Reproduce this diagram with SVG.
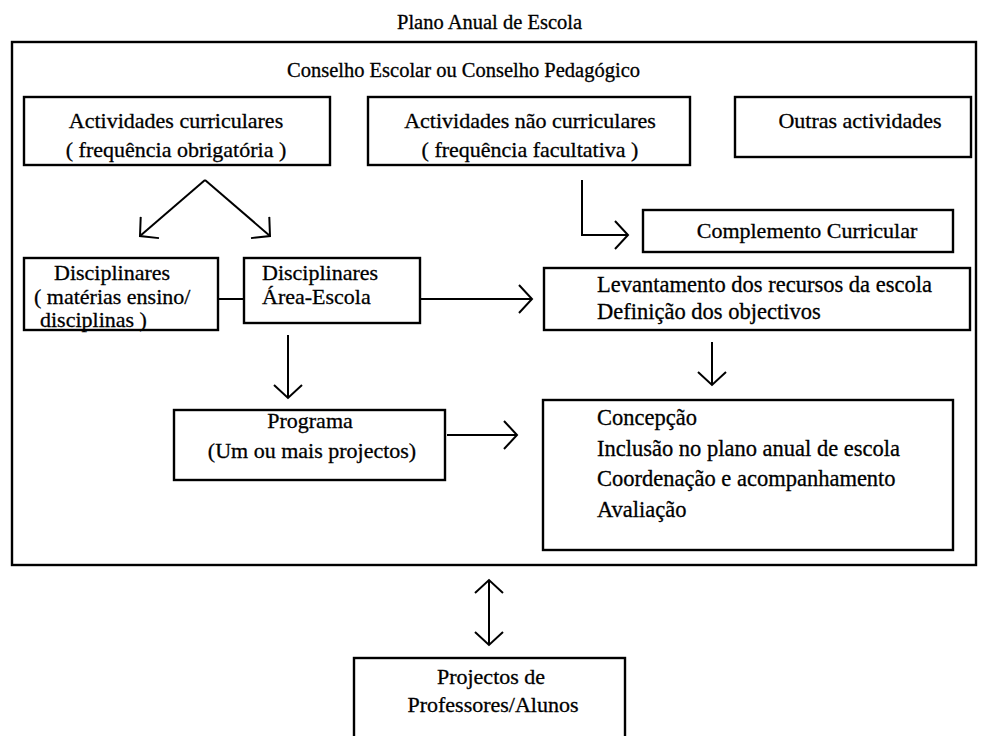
<svg xmlns="http://www.w3.org/2000/svg" width="984" height="736" viewBox="0 0 984 736">
<style>
text{font-family:"Liberation Serif","Times New Roman",serif;font-size:22px;fill:#000;stroke:#000;stroke-width:0.3}
.c{text-anchor:middle}
.h{font-size:20.5px}
.box{fill:none;stroke:#000;stroke-width:2.4}
.con{fill:none;stroke:#000;stroke-width:2}
</style>
<defs>
<marker id="ah" viewBox="0 0 16 30" refX="14" refY="15" markerWidth="16" markerHeight="30" markerUnits="userSpaceOnUse" orient="auto-start-reverse">
<path d="M1,1 L14,15 L1,29" fill="none" stroke="#000" stroke-width="2"/>
</marker>
</defs>
<rect width="984" height="736" fill="#fff"/>
<text class="h" x="397" y="29">Plano Anual de Escola</text>
<g id="outer">
<rect class="box" x="12" y="42" width="964" height="523"/>
<text class="h" x="287" y="77">Conselho Escolar ou Conselho Pedagógico</text>
</g>
<g id="curriculares">
<rect class="box" x="24" y="97" width="306" height="68"/>
<text class="c" x="176" y="128">Actividades curriculares</text>
<text class="c" x="176" y="157">( frequência obrigatória )</text>
</g>
<g id="naocurriculares">
<rect class="box" x="368" y="97" width="322" height="68"/>
<text class="c" x="530" y="128">Actividades não curriculares</text>
<text class="c" x="530" y="157">( frequência facultativa )</text>
</g>
<g id="outras">
<rect class="box" x="735" y="97" width="236" height="60"/>
<text class="c" x="860" y="128">Outras actividades</text>
</g>
<g id="complemento">
<rect class="box" x="643" y="210" width="310" height="42"/>
<text class="c" x="807" y="238">Complemento Curricular</text>
</g>
<g id="disciplinares">
<rect class="box" x="24" y="258" width="194" height="72"/>
<text x="54" y="280">Disciplinares</text>
<text x="34" y="304">( matérias ensino/</text>
<text x="40" y="327">disciplinas )</text>
</g>
<g id="areaescola">
<rect class="box" x="244" y="258" width="176" height="65"/>
<text x="262" y="280">Disciplinares</text>
<text x="262" y="304">Área-Escola</text>
</g>
<g id="levantamento">
<rect class="box" x="544" y="268" width="426" height="62"/>
<text x="597" y="292" style="font-size:22.5px">Levantamento dos recursos da escola</text>
<text x="597" y="319" style="font-size:22.5px">Definição dos objectivos</text>
</g>
<g id="programa">
<rect class="box" x="174" y="410" width="271" height="70"/>
<text class="c" x="310" y="428">Programa</text>
<text class="c" x="312" y="458">(Um ou mais projectos)</text>
</g>
<g id="concepcao">
<rect class="box" x="543" y="400" width="410" height="150"/>
<text x="597" y="425" style="font-size:22.5px">Concepção</text>
<text x="597" y="456" style="font-size:22.5px">Inclusão no plano anual de escola</text>
<text x="597" y="486" style="font-size:22.5px">Coordenação e acompanhamento</text>
<text x="597" y="517" style="font-size:22.5px">Avaliação</text>
</g>
<g id="projectos">
<rect class="box" x="354" y="658" width="271" height="90"/>
<text class="c" x="491" y="684">Projectos de</text>
<text class="c" x="493" y="712">Professores/Alunos</text>
</g>
<g id="connectors">
<path class="con" d="M205,180 L140,236" marker-end="url(#ah)"/>
<path class="con" d="M205,180 L270,236" marker-end="url(#ah)"/>
<path class="con" d="M582,180 L582,235 L628,235" marker-end="url(#ah)"/>
<path class="con" d="M218,299 L244,299"/>
<path class="con" d="M420,299 L532,299" marker-end="url(#ah)"/>
<path class="con" d="M288,335 L288,398" marker-end="url(#ah)"/>
<path class="con" d="M712,342 L712,385" marker-end="url(#ah)"/>
<path class="con" d="M447,435 L517,435" marker-end="url(#ah)"/>
<path class="con" d="M489,580 L489,645" marker-start="url(#ah)" marker-end="url(#ah)"/>
</g>
</svg>
